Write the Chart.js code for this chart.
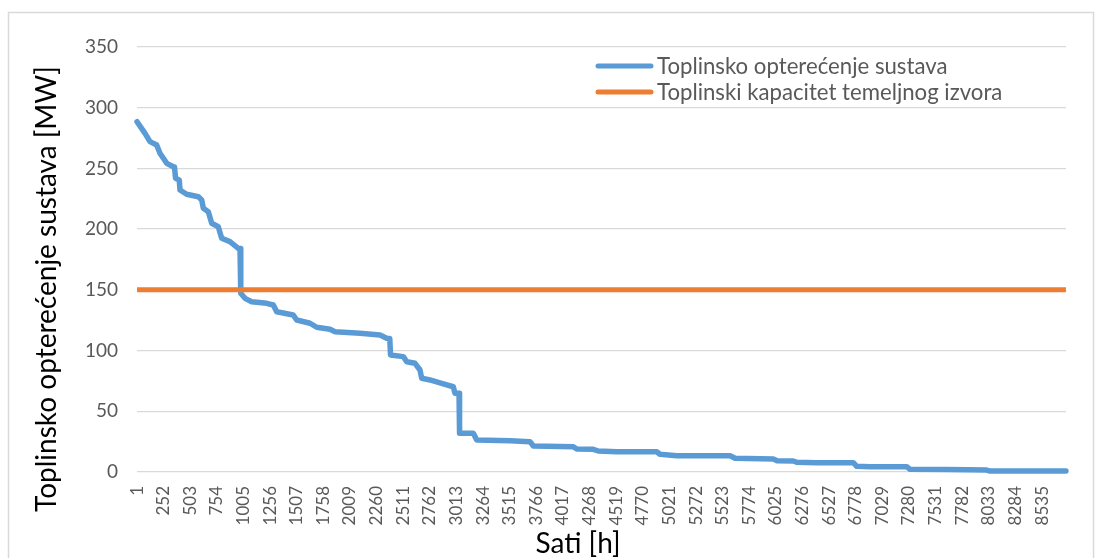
<!DOCTYPE html>
<html>
<head>
<meta charset="utf-8">
<script src="https://cdn.jsdelivr.net/npm/chart.js@4.4.1/dist/chart.umd.min.js"></script>
<style>
  html, body { margin: 0; padding: 0; background: #ffffff; }
  canvas { display: block; }
</style>
</head>
<body>
<canvas id="chart" width="1102" height="558"></canvas>
<script>
// Load duration curve: hour of year (sorted) and heat load in MW at each breakpoint
const loadHours = [1, 76, 123, 186, 217, 281, 343, 354, 364, 399,
  406, 469, 579, 611, 626, 673, 705, 767, 799, 877,
  956, 972, 979, 1019, 1082, 1224, 1286, 1318, 1474, 1506,
  1632, 1695, 1820, 1868, 2103, 2292, 2355, 2384, 2391, 2512,
  2544, 2622, 2669, 2685, 2763, 2889, 2983, 2999, 3037, 3042,
  3172, 3204, 3518, 3706, 3738, 4115, 4147, 4303, 4350, 4524,
  4901, 4932, 5090, 5593, 5640, 6001, 6036, 6189, 6221, 6410,
  6755, 6787, 6913, 7259, 7290, 7636, 8013, 8044, 8760];
const loadMW = [288.5, 278.9, 272.1, 269.3, 262.5, 254.2, 251.4, 251.2, 241.9, 240.5,
  232.2, 228.7, 226.7, 224.0, 217.2, 214.4, 204.8, 202.0, 192.5, 189.7,
  184.2, 184.0, 147.2, 143.0, 140.2, 138.9, 137.5, 132.0, 129.3, 125.2,
  122.5, 119.2, 117.5, 115.5, 114.2, 112.8, 110.1, 110.0, 96.4, 95.0,
  90.8, 89.5, 84.0, 77.2, 75.8, 72.5, 70.2, 64.8, 64.8, 31.9,
  31.9, 26.4, 25.8, 25.0, 21.4, 20.8, 18.9, 18.7, 17.3, 16.7,
  16.7, 14.6, 13.4, 13.4, 11.3, 10.7, 9.3, 9.1, 8.0, 7.7,
  7.7, 4.7, 4.4, 4.4, 2.2, 2.1, 1.6, 0.8, 0.8];

// Base source heat capacity (constant over the year)
const capacityHours = [1, 8760];
const capacityMW = [150, 150];

// Axis labels
const xTickLabels = [1, 252, 503, 754, 1005, 1256, 1507, 1758, 2009, 2260,
  2511, 2762, 3013, 3264, 3515, 3766, 4017, 4268, 4519, 4770,
  5021, 5272, 5523, 5774, 6025, 6276, 6527, 6778, 7029, 7280,
  7531, 7782, 8033, 8284, 8535];
const yTickValues = [0, 50, 100, 150, 200, 250, 300, 350];
const seriesNames = ['Toplinsko opterećenje sustava', 'Toplinski kapacitet temeljnog izvora'];
const xTitle = 'Sati [h]';
const yTitle = 'Toplinsko opterećenje sustava [MW]';

const FONT = 'Lato';
const TICK_COLOR = '#595959';
const GRID_COLOR = '#d9d9d9';
const BLUE = '#5b9bd5';
const ORANGE = '#ed7d31';

// white background and thin outer frame
const framePlugin = {
  id: 'frame',
  beforeDraw(chart) {
    const ctx = chart.ctx;
    ctx.save();
    ctx.fillStyle = '#ffffff';
    ctx.fillRect(0, 0, chart.width, chart.height);
    ctx.strokeStyle = GRID_COLOR;
    ctx.lineWidth = 1.5;
    ctx.strokeRect(8.5, 12.5, 1085, 560);
    ctx.restore();
  }
};

// axis titles and the in-plot legend
const annotatePlugin = {
  id: 'annotate',
  afterDraw(chart) {
    const ctx = chart.ctx;
    ctx.save();
    // axis titles
    ctx.fillStyle = '#000000';
    ctx.font = '28px ' + FONT;
    ctx.textAlign = 'center';
    ctx.textBaseline = 'alphabetic';
    ctx.fillText(xTitle, 578, 553);
    ctx.translate(56, 289);
    ctx.rotate(-Math.PI / 2);
    ctx.fillText(yTitle, 0, 0);
    ctx.setTransform(1, 0, 0, 1, 0, 0);

    // legend
    const rows = [66, 92];
    chart.data.datasets.forEach((ds, i) => {
      const y = rows[i];
      ctx.strokeStyle = ds.borderColor;
      ctx.lineWidth = 5;
      ctx.lineCap = 'round';
      ctx.beginPath();
      ctx.moveTo(598, y);
      ctx.lineTo(651, y);
      ctx.stroke();
      ctx.fillStyle = TICK_COLOR;
      ctx.font = '22.2px ' + FONT;
      ctx.textAlign = 'left';
      ctx.textBaseline = 'middle';
      ctx.fillText(ds.label, 657, y + 1);
    });
    ctx.restore();
  }
};

function draw() {
  const loadPoints = loadHours.map((h, i) => ({ x: h, y: loadMW[i] }));
  const capacityPoints = capacityHours.map((h, i) => ({ x: h, y: capacityMW[i] }));

  new Chart(document.getElementById('chart'), {
    type: 'line',
    data: {
      datasets: [
        {
          label: seriesNames[0],
          data: loadPoints,
          borderColor: BLUE,
          borderWidth: 5.5,
          borderCapStyle: 'round',
          borderJoinStyle: 'round',
          pointRadius: 0,
          tension: 0,
          fill: false,
          clip: 6,
          order: 1
        },
        {
          label: seriesNames[1],
          data: capacityPoints,
          borderColor: ORANGE,
          borderWidth: 5,
          pointRadius: 0,
          tension: 0,
          fill: false,
          order: 0
        }
      ]
    },
    options: {
      responsive: false,
      animation: false,
      devicePixelRatio: 1,
      layout: { padding: { left: 0, right: 36, top: 47, bottom: 0 } },
      plugins: {
        legend: { display: false },
        tooltip: { enabled: false }
      },
      scales: {
        x: {
          type: 'linear',
          min: 0.5,
          max: 8760.5,
          afterBuildTicks(scale) {
            scale.ticks = xTickLabels.map(v => ({ value: v }));
          },
          afterFit(scale) { scale.height = 86; },
          grid: { display: false, drawTicks: false },
          border: { display: false },
          ticks: {
            autoSkip: false,
            minRotation: 90,
            maxRotation: 90,
            padding: 14,
            color: TICK_COLOR,
            font: { family: FONT, size: 17 },
            callback: v => String(v)
          }
        },
        y: {
          min: 0,
          max: 350,
          afterBuildTicks(scale) {
            scale.ticks = yTickValues.map(v => ({ value: v }));
          },
          afterFit(scale) { scale.width = 137; },
          grid: { color: GRID_COLOR, lineWidth: 1.3, drawTicks: false },
          border: { display: false },
          ticks: {
            padding: 19,
            color: TICK_COLOR,
            font: { family: FONT, size: 19 },
            callback: v => String(v)
          }
        }
      }
    },
    plugins: [framePlugin, annotatePlugin]
  });
}

if (document.fonts && document.fonts.load) {
  Promise.all([document.fonts.load('18px ' + FONT), document.fonts.load('28px ' + FONT)])
    .then(draw, draw);
} else {
  draw();
}
</script>
</body>
</html>
